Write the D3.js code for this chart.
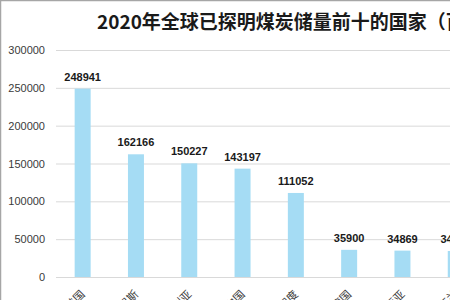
<!DOCTYPE html>
<html>
<head>
<meta charset="utf-8">
<script src="https://cdn.jsdelivr.net/npm/d3@7"></script>
<style>
  body { margin: 0; background: #fff; }
  svg { display: block; overflow: hidden; }
</style>
</head>
<body>
<div id="chart-area"></div>
<script>
// values in million tonnes
const countries = ["美国", "俄罗斯", "澳大利亚", "中国", "印度", "德国", "印度尼西亚", "乌克兰", "波兰", "哈萨克斯坦"]
const reserves = [248941, 162166, 150227, 143197, 111052, 35900, 34869, 34375, 28395, 25605]
const yTicks = [0, 50000, 100000, 150000, 200000, 250000, 300000]
const TITLE = "2020年全球已探明煤炭储量前十的国家（百万吨）"

// the original chart is wider than the visible window, so lay it out at full size and crop
const FULL_WIDTH = 596
const WIDTH = 450
const HEIGHT = 300
const PLOT = { LEFT: 56, RIGHT: 589, TOP: 50, BOTTOM: 277 }

const data = countries.map((c, i) => ({ country: c, value: reserves[i] }))

const svg = d3.select("#chart-area").append("svg")
  .attr("width", WIDTH)
  .attr("height", HEIGHT)

// frame
svg.append("rect")
  .attr("x", 0.5).attr("y", 0.5)
  .attr("width", FULL_WIDTH).attr("height", HEIGHT + 10)
  .attr("fill", "#fff")
  .attr("stroke", "#a6a6a6")
  .attr("stroke-width", 1.5)

svg.append("text")
  .attr("x", 97)
  .attr("y", 29)
  .attr("font-family", "'Noto Sans CJK SC', sans-serif")
  .attr("font-size", 19)
  .attr("font-weight", "bold")
  .attr("fill", "#1a1a1a")
  .text(TITLE)

const x = d3.scaleBand()
  .domain(countries)
  .range([PLOT.LEFT, PLOT.RIGHT])
  .paddingInner(0.7)
  .paddingOuter(0.35)

const y = d3.scaleLinear()
  .domain([0, 300000])
  .range([PLOT.BOTTOM, PLOT.TOP])

// gridlines
const yAxisGrid = d3.axisLeft(y).tickValues(yTicks).tickSize(-(PLOT.RIGHT - PLOT.LEFT)).tickFormat('')
svg.append("g")
  .attr("class", "y axis-grid")
  .attr("transform", `translate(${PLOT.LEFT}, 0)`)
  .call(yAxisGrid)
  .call(g => g.select(".domain").remove())
  .selectAll("line")
    .attr("stroke", "#d9d9d9")

// y labels
const yAxisCall = d3.axisLeft(y).tickValues(yTicks).tickSize(0).tickPadding(11).tickFormat(d3.format("d"))
svg.append("g")
  .attr("class", "y axis")
  .attr("transform", `translate(${PLOT.LEFT}, 0)`)
  .call(yAxisCall)
  .call(g => g.select(".domain").remove())
  .selectAll("text")
    .attr("font-family", "'Liberation Sans', 'DejaVu Sans', sans-serif")
    .attr("font-size", 11)
    .attr("fill", "#3a3a3a")

// bars
svg.selectAll("rect.bar")
  .data(data)
  .enter().append("rect")
    .attr("class", "bar")
    .attr("x", d => x(d.country))
    .attr("y", d => y(d.value))
    .attr("width", x.bandwidth())
    .attr("height", d => y(0) - y(d.value))
    .attr("fill", "#a5dcf4")

// x axis line
svg.append("line")
  .attr("x1", PLOT.LEFT).attr("x2", PLOT.RIGHT)
  .attr("y1", y(0) + 0.5).attr("y2", y(0) + 0.5)
  .attr("stroke", "#d9d9d9")

// value labels
svg.selectAll("text.value")
  .data(data)
  .enter().append("text")
    .attr("class", "value")
    .attr("x", d => x(d.country) + x.bandwidth() / 2)
    .attr("y", d => y(d.value) - 8)
    .attr("text-anchor", "middle")
    .attr("font-family", "'Liberation Sans', 'DejaVu Sans', sans-serif")
    .attr("font-size", 11)
    .attr("font-weight", "bold")
    .attr("fill", "#1a1a1a")
    .text(d => d.value)

// category labels, rotated
svg.selectAll("text.cat")
  .data(data)
  .enter().append("text")
    .attr("class", "cat")
    .attr("transform", d => `translate(${x(d.country) + x.bandwidth() / 2 + 3}, ${y(0) + 18}) rotate(-45)`)
    .attr("text-anchor", "end")
    .attr("font-family", "'Noto Sans CJK SC', sans-serif")
    .attr("font-size", 11)
    .attr("fill", "#3a3a3a")
    .text(d => d.country)
</script>
</body>
</html>
